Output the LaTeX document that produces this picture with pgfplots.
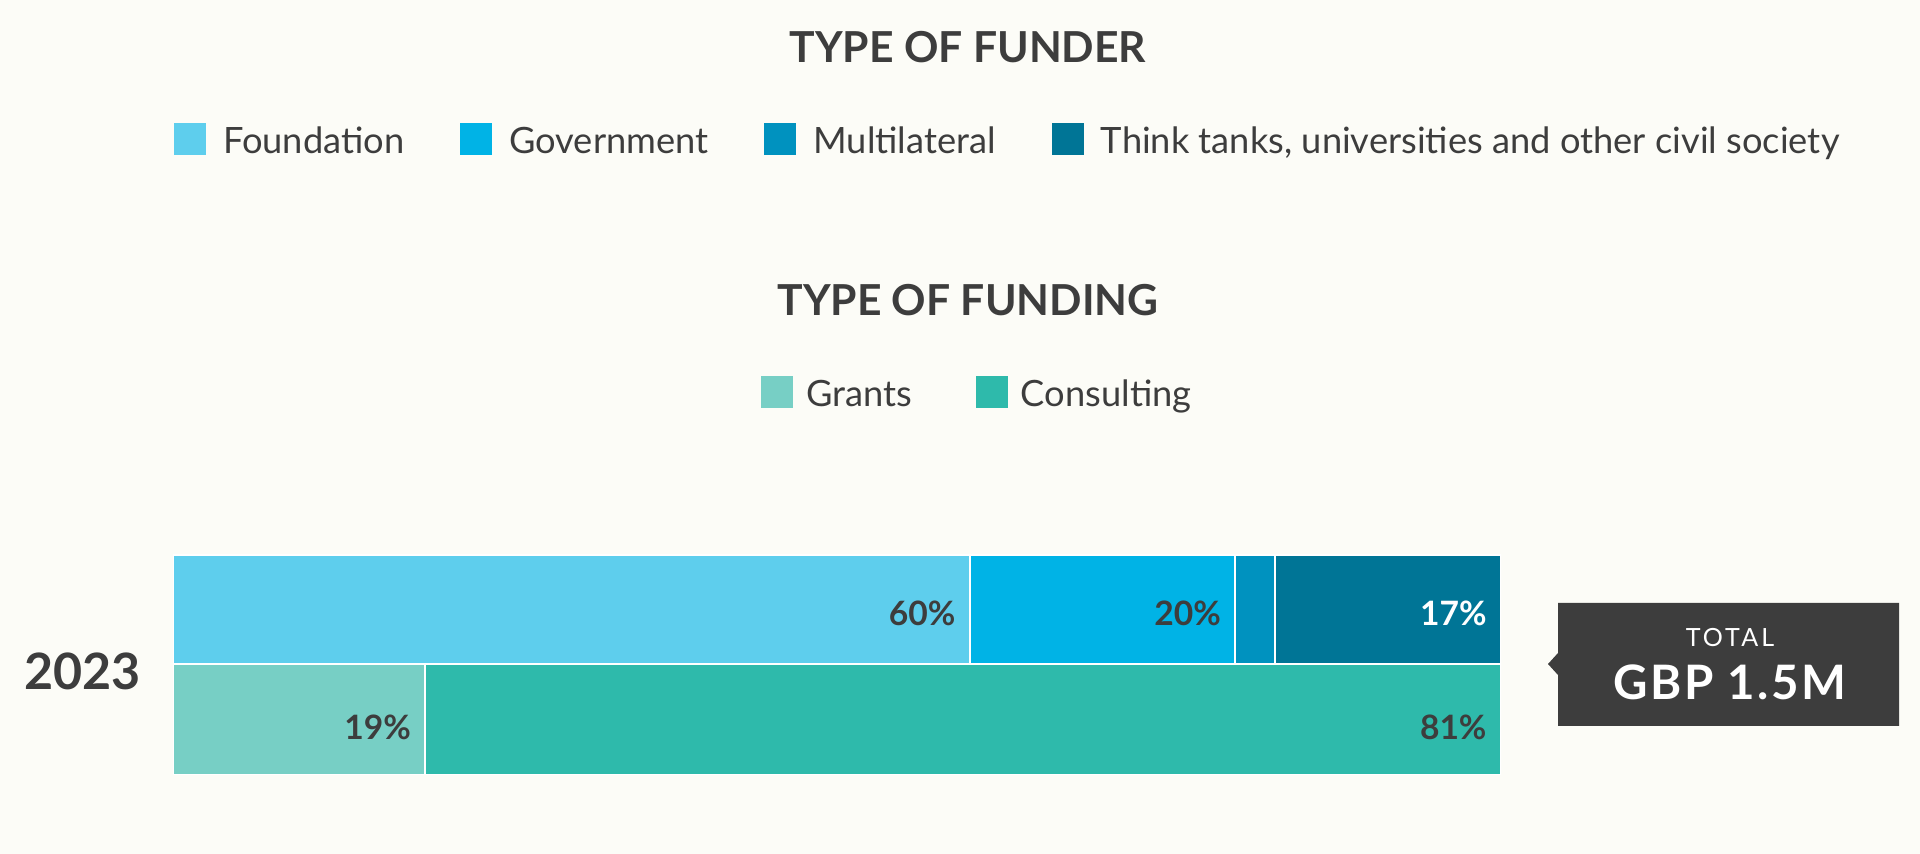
\documentclass[border=0pt]{standalone}
\usepackage{pgfplots}
\pgfplotsset{compat=1.18}
\usepackage{fontspec}
\setmainfont{Lato}
\definecolor{bgc}{HTML}{FCFCF7}
\definecolor{txt}{HTML}{3D3D3D}
\definecolor{cFound}{HTML}{5ECEED}
\definecolor{cGov}{HTML}{00B3E6}
\definecolor{cMulti}{HTML}{0092BF}
\definecolor{cThink}{HTML}{007596}
\definecolor{cGrant}{HTML}{77CFC5}
\definecolor{cCons}{HTML}{2EBAAB}
\newcommand{\legfont}{\fontsize{13.6pt}{16pt}\selectfont}
\newcommand{\labfont}{\fontsize{12.6pt}{15pt}\selectfont\bfseries}
\pgfplotsset{
  geom/.style={scale only axis, width=498pt,
    xmin=0, xmax=100, ymin=-0.5, ymax=0.5,
    axis lines=none, ticks=none, point meta=explicit symbolic},
  barbase/.style={geom,
    xbar stacked, bar width=1,
    every axis plot/.append style={draw=white, line width=0.75pt},
    legend image code/.code={\path[##1,draw=none] (0pt,-4.85pt) rectangle (12pt,7.15pt);},
    legend style={draw=none, fill=none, inner sep=0pt, outer sep=0pt,
      font=\legfont, text=txt, nodes={inner sep=0pt}},
  },
  labels/.style 2 args={only marks, mark=none,
    nodes near coords=\pgfplotspointmeta,
    every node near coord/.append style={anchor=east, xshift=-1.9pt, yshift=#2,
      font=\labfont, text=#1}},
}
\begin{document}
\begin{tikzpicture}[x=0.375pt, y=-0.375pt]
\fill[bgc] (0,0) rectangle (1920,854);

% titles
\node[font=\fontsize{16pt}{19pt}\selectfont\bfseries, text=txt, inner sep=0pt] at (968,47) {TYPE OF FUNDER};
\node[font=\fontsize{16pt}{19pt}\selectfont\bfseries, text=txt, inner sep=0pt] at (968,300) {TYPE OF FUNDING};

% top bar: type of funder
\begin{axis}[barbase, at={(64.875pt,-249pt)}, anchor=south west, height=40.875pt,
  legend columns=4,
  legend style={at={(0.00075,4.963)}, anchor=north west,
    /tikz/every odd column/.append style={column sep=6.4pt},
    /tikz/every even column/.append style={column sep=21pt}}]
\addplot[fill=cFound] coordinates {(60,0) [60\%]};
\addlegendentry{Foundation}
\addplot[fill=cGov] coordinates {(20,0) [20\%]};
\addlegendentry{Government}
\addplot[fill=cMulti] coordinates {(3,0) [3\%]};
\addlegendentry{Multilateral}
\addplot[fill=cThink] coordinates {(17,0) [17\%]};
\addlegendentry{Think tanks, universities and other civil society}
\end{axis}
% value labels at the right end of each segment (cumulative 60, 80, 100)
\begin{axis}[geom, at={(64.875pt,-249pt)}, anchor=south west, height=40.875pt]
\addplot[labels={txt}{-1.6pt}] coordinates {(60,0) [60\%] (80,0) [20\%]};
\addplot[labels={white}{-1.6pt}] coordinates {(100,0) [17\%]};
\end{axis}

% bottom bar: type of funding
\begin{axis}[barbase, at={(64.875pt,-290.625pt)}, anchor=south west, height=41.625pt,
  legend columns=2,
  legend style={at={(0.4428,3.595)}, anchor=north west,
    /tikz/every odd column/.append style={column sep=5pt},
    /tikz/every even column/.append style={column sep=23.8pt}}]
\addplot[fill=cGrant] coordinates {(19,0) [19\%]};
\addlegendentry{Grants}
\addplot[fill=cCons] coordinates {(81,0) [81\%]};
\addlegendentry{Consulting}
\end{axis}
\begin{axis}[geom, at={(64.875pt,-290.625pt)}, anchor=south west, height=41.625pt]
\addplot[labels={txt}{-3pt}] coordinates {(19,0) [19\%] (100,0) [81\%]};
\end{axis}

% year label
\node[font=\fontsize{18.8pt}{22pt}\selectfont\bfseries, text=txt, inner sep=0pt] at (82.5,671) {2023};

% total callout
\fill[txt] (1558,603) -- (1899,603) -- (1899,726) -- (1558,726) -- (1558,675) -- (1548,664) -- (1558,653) -- cycle;
\node[font=\fontsize{9.4pt}{11pt}\selectfont\addfontfeatures{LetterSpace=12}, text=white, inner sep=0pt] at (1730,638) {TOTAL};
\node[font=\fontsize{17.8pt}{21pt}\selectfont\bfseries\addfontfeatures{LetterSpace=5}, text=white, inner sep=0pt] at (1730,682) {GBP 1.5M};

\pgfresetboundingbox
\useasboundingbox (0,0) rectangle (1920,854);
\end{tikzpicture}
\end{document}
